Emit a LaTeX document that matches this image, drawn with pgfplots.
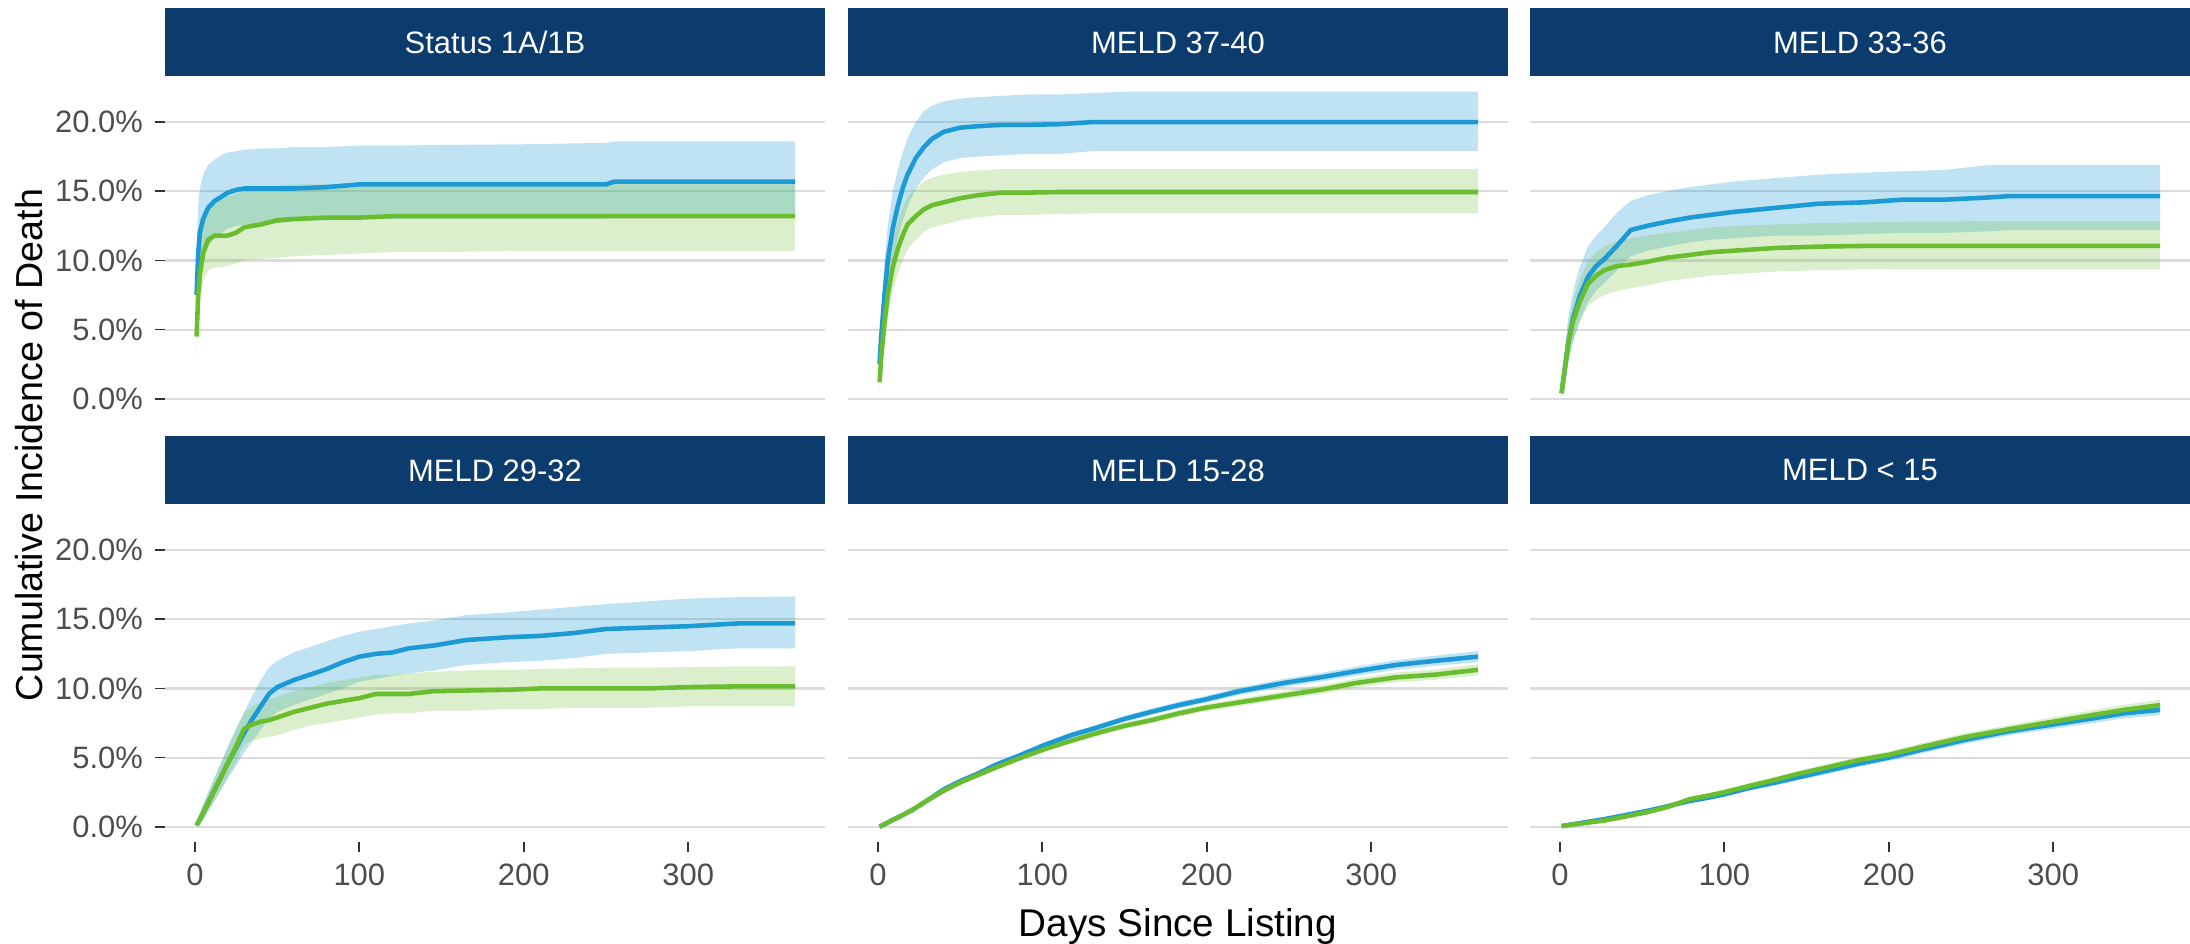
\documentclass[border=0pt]{standalone}
\usepackage{fontspec}
\setmainfont{Liberation Sans}
\usepackage{pgfplots}
\usepackage{pgfplotstable}
\pgfplotsset{compat=1.18}
\usepgfplotslibrary{fillbetween}

\definecolor{stripblue}{HTML}{0C3B6E}
\definecolor{lineblue}{HTML}{1B9AD6}
\definecolor{linegreen}{HTML}{6ABD2F}
\definecolor{gridgrey}{HTML}{DCDCDC}
\definecolor{tickgrey}{HTML}{4D4D4D}
\definecolor{tickdark}{HTML}{333333}

% columns: day, blue estimate, blue lower, blue upper, green estimate, green lower, green upper (percent)
\pgfplotstableread{
d b bl bu g gl gu
1 7.5 4.5 11.0 4.5 3.0 6.5
2 10.5 7.5 14.0 7.5 5.5 10.0
3 12.0 9.0 15.2 9.0 7.0 11.5
5 13.0 10.2 16.2 10.5 8.5 12.8
8 13.8 11.0 16.9 11.5 9.3 13.8
12 14.3 11.6 17.3 11.8 9.5 14.2
16 14.6 12.0 17.6 11.8 9.5 14.4
20 14.9 12.3 17.8 11.8 9.6 14.6
25 15.1 12.5 17.9 12.0 9.8 14.8
30 15.2 12.6 18.0 12.4 10.0 15.0
40 15.2 12.7 18.1 12.6 10.1 15.2
50 15.2 12.7 18.1 12.9 10.2 15.4
60 15.2 12.8 18.2 13.0 10.3 15.5
80 15.3 12.9 18.2 13.1 10.4 15.5
100 15.5 13.0 18.3 13.1 10.5 15.5
120 15.5 13.0 18.3 13.2 10.6 15.5
150 15.5 13.0 18.35 13.2 10.6 15.55
200 15.5 13.0 18.4 13.2 10.7 15.55
250 15.5 13.0 18.5 13.2 10.7 15.6
255 15.7 13.2 18.6 13.2 10.7 15.6
300 15.7 13.2 18.6 13.2 10.7 15.6
365 15.7 13.2 18.6 13.2 10.7 15.6
}\tabA
\pgfplotstableread{
d b bl bu g gl gu
1 2.5 1.5 4.0 1.2 0.5 2.5
2 4.5 3.0 6.5 3.0 1.8 4.5
4 7.5 5.5 10.0 5.5 4.0 7.2
6 10.0 7.8 12.5 7.5 5.8 9.3
9 12.3 10.0 15.0 9.5 7.8 11.4
12 13.9 11.5 16.5 10.8 9.0 12.8
15 15.2 12.8 17.8 11.8 10.0 13.8
18 16.2 13.9 18.8 12.6 10.8 14.6
23 17.4 15.2 20.0 13.2 11.5 15.2
28 18.2 16.0 20.8 13.7 12.1 15.7
33 18.8 16.6 21.2 14.0 12.4 16.0
40 19.3 17.1 21.5 14.2 12.6 16.2
50 19.6 17.4 21.7 14.5 12.9 16.4
60 19.7 17.5 21.8 14.7 13.1 16.5
75 19.8 17.6 21.9 14.9 13.3 16.6
90 19.8 17.7 22.0 14.9 13.3 16.6
110 19.85 17.7 22.0 14.95 13.35 16.6
130 20.0 17.9 22.1 14.95 13.4 16.6
150 20.0 17.9 22.2 14.95 13.4 16.6
200 20.0 17.9 22.2 14.95 13.4 16.6
300 20.0 17.9 22.2 14.95 13.4 16.6
365 20.0 17.9 22.2 14.95 13.4 16.6
}\tabB
\pgfplotstableread{
d b bl bu g gl gu
1 0.4 0.1 1.0 0.4 0.1 0.9
3 2.2 1.2 3.5 2.2 1.2 3.3
5 4.0 2.6 5.8 4.0 2.7 5.4
8 5.8 4.2 7.8 5.6 4.1 7.1
12 7.4 5.6 9.5 7.0 5.5 8.6
17 8.8 7.0 11.0 8.3 6.7 9.9
22 9.6 7.8 11.8 8.9 7.2 10.6
27 10.1 8.4 12.4 9.3 7.5 11.0
35 11.1 9.3 13.5 9.6 7.8 11.4
43 12.2 10.3 14.3 9.7 8.0 11.6
53 12.5 10.7 14.7 9.9 8.2 11.8
65 12.8 11.0 15.0 10.2 8.5 12.0
79 13.1 11.3 15.3 10.4 8.7 12.2
92 13.3 11.5 15.5 10.6 8.9 12.4
105 13.5 11.6 15.7 10.7 9.0 12.5
131 13.8 11.8 15.95 10.9 9.2 12.6
157 14.1 11.8 16.2 11.0 9.3 12.7
185 14.2 11.9 16.35 11.05 9.35 12.75
209 14.4 12.0 16.45 11.05 9.4 12.8
235 14.4 12.0 16.55 11.05 9.4 12.8
260 14.55 12.1 16.9 11.05 9.4 12.85
273 14.65 12.2 16.9 11.05 9.4 12.85
300 14.65 12.2 16.9 11.05 9.4 12.85
365 14.65 12.2 16.9 11.05 9.4 12.85
}\tabC
\pgfplotstableread{
d b bl bu g gl gu
1 0.1 0.0 0.3 0.1 0.0 0.3
5 1.0 0.5 1.6 1.0 0.5 1.6
10 2.2 1.5 3.0 2.2 1.5 3.0
15 3.4 2.5 4.4 3.4 2.5 4.4
20 4.6 3.5 5.8 4.6 3.6 5.7
25 5.7 4.4 7.1 5.8 4.7 7.0
30 6.8 5.4 8.3 7.1 6.0 8.3
35 7.8 6.2 9.5 7.4 6.2 8.7
40 8.7 7.0 10.6 7.6 6.4 9.0
45 9.6 7.8 11.5 7.7 6.5 9.2
50 10.1 8.3 12.0 7.9 6.6 9.4
60 10.6 8.8 12.6 8.3 7.0 9.8
70 11.0 9.2 13.0 8.6 7.3 10.1
80 11.4 9.6 13.4 8.9 7.5 10.4
90 11.9 10.0 13.8 9.1 7.7 10.6
100 12.3 10.5 14.1 9.3 7.9 10.8
110 12.5 10.7 14.3 9.6 8.1 11.0
120 12.6 10.9 14.5 9.6 8.2 11.0
130 12.9 11.1 14.7 9.6 8.2 11.1
145 13.1 11.3 14.9 9.8 8.4 11.2
165 13.5 11.7 15.3 9.85 8.4 11.3
190 13.7 11.9 15.5 9.9 8.5 11.35
210 13.8 12.0 15.7 10.0 8.5 11.4
230 14.0 12.2 15.9 10.0 8.6 11.45
250 14.3 12.5 16.1 10.0 8.6 11.5
275 14.4 12.6 16.3 10.0 8.6 11.5
300 14.5 12.7 16.5 10.1 8.7 11.55
330 14.7 12.9 16.6 10.15 8.7 11.6
365 14.7 12.9 16.65 10.15 8.7 11.6
}\tabD
\pgfplotstableread{
d b bl bu g gl gu
1 0.0 0.0 0.03 0.0 0.0 0.03
10 0.55 0.47 0.63 0.55 0.47 0.63
20 1.15 1.05 1.25 1.15 1.05 1.25
30 1.9 1.78 2.02 1.9 1.78 2.02
40 2.7 2.57 2.83 2.6 2.47 2.73
50 3.3 3.16 3.44 3.2 3.06 3.34
60 3.8 3.65 3.95 3.7 3.55 3.85
72 4.5 4.34 4.66 4.3 4.14 4.46
85 5.1 4.93 5.27 4.9 4.73 5.07
101 5.9 5.72 6.08 5.6 5.42 5.78
117 6.6 6.4 6.8 6.2 6.0 6.4
134 7.2 6.99 7.41 6.8 6.59 7.01
150 7.8 7.58 8.02 7.3 7.08 7.52
166 8.3 8.07 8.53 7.7 7.47 7.93
183 8.8 8.56 9.04 8.2 7.96 8.44
199 9.2 8.95 9.45 8.6 8.35 8.85
220 9.8 9.53 10.07 9.0 8.73 9.27
247 10.4 10.11 10.69 9.5 9.21 9.79
269 10.8 10.49 11.11 9.9 9.59 10.21
291 11.25 10.92 11.58 10.4 10.07 10.73
315 11.7 11.35 12.05 10.8 10.45 11.15
339 12.0 11.63 12.37 11.0 10.63 11.37
365 12.3 11.9 12.7 11.35 10.95 11.75
}\tabE
\pgfplotstableread{
d b bl bu g gl gu
1 0.05 0.03 0.07 0.05 0.03 0.07
14 0.3 0.25 0.35 0.25 0.2 0.3
27 0.55 0.47 0.63 0.45 0.37 0.53
40 0.85 0.75 0.95 0.75 0.65 0.85
53 1.15 1.03 1.27 1.05 0.93 1.17
66 1.5 1.36 1.64 1.45 1.31 1.59
79 1.87 1.72 2.02 2.0 1.85 2.15
90 2.1 1.94 2.26 2.25 2.09 2.41
100 2.35 2.18 2.52 2.5 2.33 2.67
115 2.8 2.61 2.99 2.95 2.76 3.14
131 3.2 3.0 3.4 3.4 3.2 3.6
144 3.55 3.34 3.76 3.8 3.59 4.01
157 3.9 3.68 4.12 4.15 3.93 4.37
170 4.25 4.02 4.48 4.5 4.27 4.73
183 4.6 4.36 4.84 4.85 4.61 5.09
200 5.0 4.75 5.25 5.2 4.95 5.45
221 5.6 5.33 5.87 5.8 5.53 6.07
247 6.3 6.01 6.59 6.5 6.21 6.79
273 6.9 6.6 7.2 7.05 6.75 7.35
300 7.4 7.08 7.72 7.6 7.28 7.92
325 7.85 7.51 8.19 8.1 7.76 8.44
343 8.2 7.84 8.56 8.45 8.09 8.81
365 8.45 8.07 8.83 8.8 8.42 9.18
}\tabF

\newcommand{\drawpanel}[1]{%
  \addplot[name path=bu, draw=none, forget plot] table[x=d,y=bu]{#1};
  \addplot[name path=bl, draw=none, forget plot] table[x=d,y=bl]{#1};
  \addplot[lineblue, fill opacity=0.28, draw=none, forget plot] fill between[of=bu and bl];
  \addplot[name path=gu, draw=none, forget plot] table[x=d,y=gu]{#1};
  \addplot[name path=gl, draw=none, forget plot] table[x=d,y=gl]{#1};
  \addplot[linegreen, fill opacity=0.24, draw=none, forget plot] fill between[of=gu and gl];
  \addplot[lineblue, line width=1.3pt, line join=round] table[x=d,y=b]{#1};
  \addplot[linegreen, line width=1.3pt, line join=round] table[x=d,y=g]{#1};
}

\pgfplotsset{
  panel/.style={
    width=6.6cm, height=3.375cm, scale only axis,
    xmin=-18.2, xmax=383.2, ymin=-1.1, ymax=23.3,
    axis x line*=bottom, axis y line*=left,
    axis line style={draw=none},
    ytick={0,5,10,15,20},
    ymajorgrids,
    grid style={color=gridgrey, line width=0.6pt},
    tick align=outside,
    major tick length=0.097cm,
    tick style={color=tickdark, line width=0.5pt},
    ticklabel style={font=\fontsize{8.8}{10}\selectfont, text=tickgrey},
    anchor=south west,
  },
  ylab/.style={yticklabels={0.0\%,5.0\%,10.0\%,15.0\%,20.0\%}},
  noylab/.style={yticklabels={}, ytick style={draw=none}},
  xlab/.style={xtick={0,100,200,300}, xticklabels={0,100,200,300}},
  noxlab/.style={xtick=\empty},
}

\begin{document}
\begin{tikzpicture}

% strips
\foreach \xl in {1.65,8.48,15.30}{
  \fill[stripblue] (\xl,8.675) rectangle ++(6.6,0.68);
  \fill[stripblue] (\xl,4.395) rectangle ++(6.6,0.68);
}
\begin{scope}[every node/.style={text=white, font=\fontsize{8.8}{10}\selectfont}]
\node at (4.95,9.015) {Status 1A/1B};
\node at (11.78,9.015) {MELD 37-40};
\node at (18.60,9.015) {MELD 33-36};
\node at (4.95,4.735) {MELD 29-32};
\node at (11.78,4.735) {MELD 15-28};
\node at (18.60,4.735) {MELD {\char`<} 15};
\end{scope}

\begin{axis}[panel, ylab, noxlab, at={(1.65cm,5.30cm)}]
\drawpanel{\tabA}
\end{axis}
\begin{axis}[panel, noylab, noxlab, at={(8.48cm,5.30cm)}]
\drawpanel{\tabB}
\end{axis}
\begin{axis}[panel, noylab, noxlab, at={(15.30cm,5.30cm)}]
\drawpanel{\tabC}
\end{axis}
\begin{axis}[panel, ylab, xlab, at={(1.65cm,1.02cm)}]
\drawpanel{\tabD}
\end{axis}
\begin{axis}[panel, noylab, xlab, at={(8.48cm,1.02cm)}]
\drawpanel{\tabE}
\end{axis}
\begin{axis}[panel, noylab, xlab, at={(15.30cm,1.02cm)}]
\drawpanel{\tabF}
\end{axis}

\node[anchor=base, font=\fontsize{11}{13}\selectfont] at (11.78,0.07) {Days Since Listing};
\node[anchor=base, rotate=90, font=\fontsize{10.7}{13}\selectfont] at (0.43,4.99) {Cumulative Incidence of Death};

\pgfresetboundingbox
\path[use as bounding box] (0,0) rectangle (21.9,9.44);
\end{tikzpicture}
\end{document}
